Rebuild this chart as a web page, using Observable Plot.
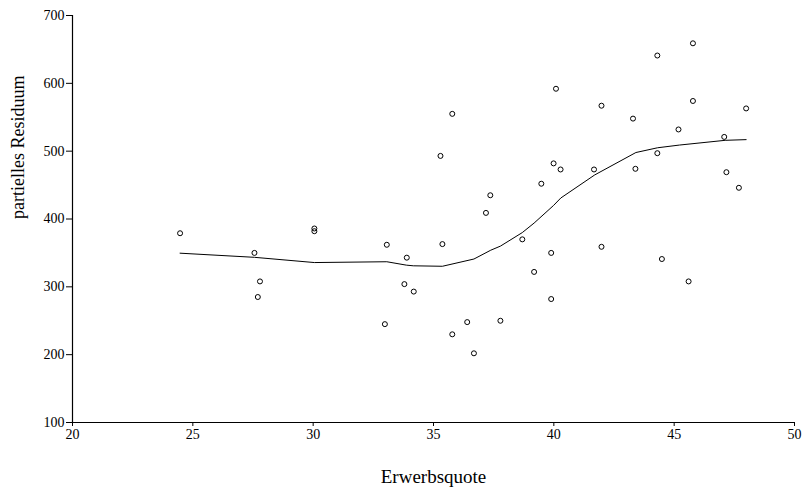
<!DOCTYPE html>
<html>
<head>
<meta charset="utf-8">
<script src="https://cdn.jsdelivr.net/npm/d3@7"></script>
<script src="https://cdn.jsdelivr.net/npm/@observablehq/plot@0.6"></script>
<style>
  html, body { margin: 0; padding: 0; background: #fff; }
</style>
</head>
<body>
<div id="chart"></div>
<script>
// Scatter points: Erwerbsquote vs. partielles Residuum
const pointX = [24.47, 27.56, 27.79, 27.70, 30.05, 30.05, 32.98, 33.06, 33.79, 33.89, 34.18,
  35.29, 35.37, 35.78, 35.78, 36.40, 36.68, 37.18, 37.36, 37.78, 38.69, 39.18, 39.48, 39.89, 39.89,
  39.99, 40.09, 40.28, 41.67, 41.98, 41.98, 43.29, 43.39, 44.30, 44.30, 44.49, 45.18, 45.60,
  45.78, 45.78, 47.08, 47.17, 47.69, 47.99];
const pointY = [379, 350, 308, 285, 386, 382, 245, 362, 304, 343, 293,
  493, 363, 555, 230, 248, 202, 409, 435, 250, 370, 322, 452, 350, 282,
  482, 592, 473, 473, 567, 359, 548, 474, 641, 497, 341, 532, 308,
  659, 574, 521, 469, 446, 563];

// Smoothed (loess) curve vertices
const curveX = [24.47, 27.56, 30.05, 33.06, 33.87, 34.16, 35.37, 36.68, 37.38, 37.78, 38.69, 39.18,
  39.99, 40.29, 41.70, 43.41, 44.31, 45.22, 47.12, 47.99];
const curveY = [349.6, 343.5, 335.8, 337, 332, 331, 330.3, 341, 354, 360, 380, 394,
  420, 431, 465, 498, 505, 509, 516, 517];

const xTicks = [20, 25, 30, 35, 40, 45, 50];
const yTicks = [100, 200, 300, 400, 500, 600, 700];
const xTitle = "Erwerbsquote";
const yTitle = "partielles Residuum";

const points = pointX.map((x, i) => ({x, y: pointY[i]}));
const curve = curveX.map((x, i) => ({x, y: curveY[i]}));

const chart = Plot.plot({
  width: 804,
  height: 490,
  marginLeft: 72,
  marginRight: 10,
  marginTop: 15,
  marginBottom: 68,
  style: {fontFamily: "'Liberation Serif', serif", fontSize: "14px", color: "#000", background: "#fff", overflow: "visible"},
  x: {domain: [20, 50]},
  y: {domain: [100, 700]},
  marks: [
    Plot.axisX({ticks: xTicks, tickSize: 4, tickPadding: 3, label: null, fontSize: 14}),
    Plot.axisY({ticks: yTicks, tickSize: 6, tickPadding: 2, label: null, fontSize: 14}),
    Plot.ruleX([20], {stroke: "#000", strokeWidth: 1.2}),
    Plot.ruleY([100], {stroke: "#000", strokeWidth: 1.2}),
    Plot.line(curve, {x: "x", y: "y", stroke: "#000", strokeWidth: 1}),
    Plot.dot(points, {x: "x", y: "y", r: 2.5, stroke: "#000", strokeWidth: 1, fill: "none"}),
    Plot.text([xTitle], {frameAnchor: "bottom", dy: 60, fontSize: 19, fill: "#000"}),
    Plot.text([yTitle], {frameAnchor: "left", rotate: -90, dx: -54, fontSize: 18, fill: "#000"})
  ]
});
document.getElementById("chart").appendChild(chart);
</script>
</body>
</html>
